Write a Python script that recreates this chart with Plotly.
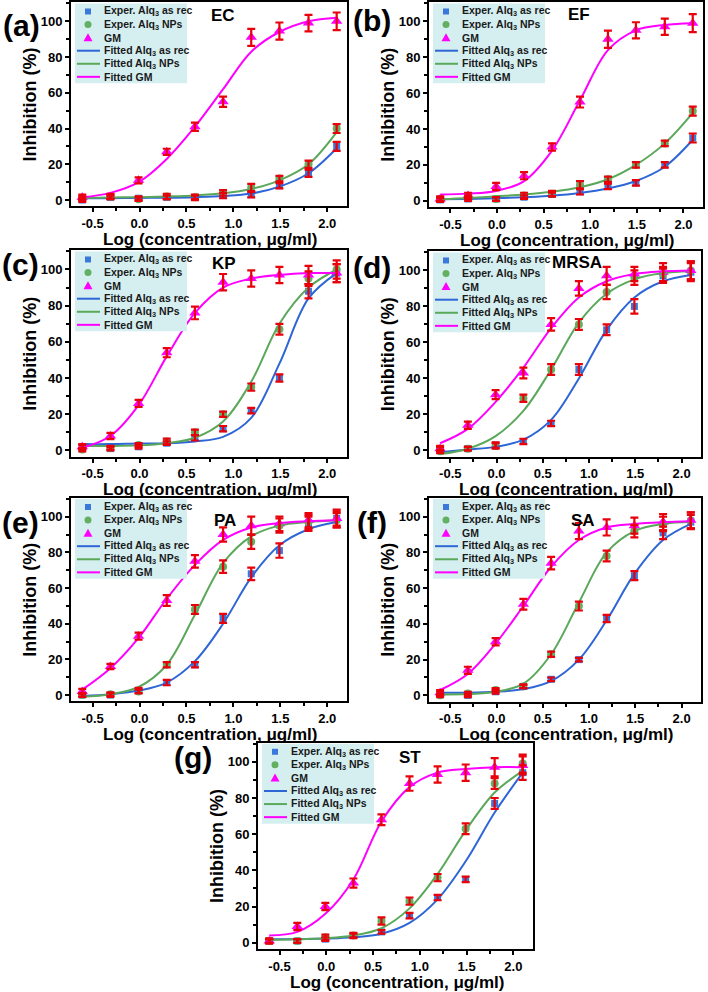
import plotly.graph_objects as go

W, H = 708, 992
FONT = "Arial, 'Liberation Sans', Helvetica, sans-serif"

# ---------------- data ----------------
x_log = [-0.61, -0.31, -0.01, 0.29, 0.59, 0.89, 1.19, 1.49, 1.80, 2.10]
x_tickvals = [-0.5, 0.0, 0.5, 1.0, 1.5, 2.0]
x_ticktext = ["-0.5", "0.0", "0.5", "1.0", "1.5", "2.0"]
y_tickvals = [0, 20, 40, 60, 80, 100]
y_ticktext = ["0", "20", "40", "60", "80", "100"]

panel_names = ["EC", "EF", "KP", "MRSA", "PA", "SA", "ST"]
panel_letters = ["(a)", "(b)", "(c)", "(d)", "(e)", "(f)", "(g)"]
legend_labels = ["Exper. Alq<sub>3</sub> as rec", "Exper. Alq<sub>3</sub> NPs", "GM",
                 "Fitted Alq<sub>3</sub> as rec", "Fitted Alq<sub>3</sub> NPs", "Fitted GM"]
x_title = "Log (concentration, μg/ml)"
y_title = "Inhibition (%)"

EC_rec = [0, 1.5, 1, 1.5, 1.5, 2.5, 3, 8, 15, 30]
EC_rec_err = [1, 1, 1, 1, 1, 1.5, 1.5, 1.5, 2, 2.5]
EC_nps = [1, 2, 0.5, 2, 1.5, 4, 7, 12, 20, 40]
EC_nps_err = [1, 1, 1, 1.5, 1.5, 1.5, 2, 1.5, 2, 2.5]
EC_gm = [1.5, 2, 11, 27, 41, 55, 91, 94.5, 99, 100]
EC_gm_err = [1.5, 1.5, 1.7, 1.7, 2.3, 2.9, 4.8, 4.8, 4.6, 4.9]
EC_fit_rec = [1, 1, 1.2, 1.3, 1.6, 2.2, 3.6, 7.5, 15, 29]
EC_fit_nps = [1.2, 1.4, 1.6, 2, 2.6, 3.8, 6.2, 11, 20, 38]
EC_fit_gm = [1.5, 4, 10, 23, 41, 62, 83, 94, 100, 102]

EF_rec = [0.5, 1, 1, 2, 3.5, 5, 8, 10, 20, 35]
EF_rec_err = [1, 1, 1, 1, 1, 1.5, 1.5, 1.5, 1.5, 2.5]
EF_nps = [1, 2, 1, 3, 4, 9, 12, 20, 32, 50]
EF_nps_err = [1, 1, 1, 1.5, 1.5, 2, 1.5, 1.5, 1.5, 2.5]
EF_gm = [1, 3, 8, 14, 30, 55, 90, 95, 97, 99]
EF_gm_err = [1.5, 1.5, 2, 2, 2, 3, 4.8, 4.5, 4.5, 5]
EF_fit_rec = [0.8, 1, 1.4, 2, 2.8, 4.3, 6.8, 11, 19, 34]
EF_fit_nps = [0.8, 1.5, 2.5, 3.5, 5, 7.5, 12, 20, 32, 49]
EF_fit_gm = [3.5, 4, 5.5, 11, 28, 56, 84, 95, 98, 99]

KP_rec = [2, 1, 2, 4, 7, 12, 22, 40, 88, 98]
KP_rec_err = [1, 1, 1, 1, 1.5, 1.5, 1.5, 2, 4, 5]
KP_nps = [0.5, 1.5, 3, 5, 10, 20, 35, 67, 95, 100]
KP_nps_err = [1, 1, 1, 1.5, 1.5, 1.5, 2, 3, 4, 5]
KP_gm = [2, 8, 26, 54, 76, 93, 95, 97, 97, 98]
KP_gm_err = [1.5, 1.7, 2, 2.5, 3.5, 4.5, 4.5, 4.5, 5, 5]
KP_fit_rec = [3.5, 3.5, 3.8, 4, 5, 7.5, 18, 48, 84, 98]
KP_fit_nps = [2.5, 2.5, 2.8, 4, 7, 16, 38, 70, 90, 100]
KP_fit_gm = [1.5, 8, 25, 52, 76, 90, 95, 97, 98, 98]

MRSA_rec = [1, 1, 3, 5, 15, 45, 67, 80, 97, 99]
MRSA_rec_err = [1, 1, 1.5, 1.5, 1.5, 3, 3, 4, 4, 5]
MRSA_nps = [-0.5, 1, 2.5, 29, 45, 70, 88, 96, 98, 100]
MRSA_nps_err = [1, 1, 1.5, 2, 3, 3, 4, 4, 4, 5]
MRSA_gm = [1, 14, 31, 43, 70, 90, 97, 98, 99, 100]
MRSA_gm_err = [1.5, 2, 2.5, 3, 3.5, 4, 5, 4, 5, 5]
MRSA_fit_rec = [-1, 0.5, 2, 6, 17, 40, 67, 85, 94, 97.5]
MRSA_fit_nps = [-2, 1, 8, 22, 45, 71, 87, 95, 98.5, 99.5]
MRSA_fit_gm = [4, 12, 27, 46, 68, 85, 94, 98, 99.5, 100]

PA_rec = [0, 0, 2.5, 7, 17, 43, 68, 81, 96, 99]
PA_rec_err = [1, 1, 1.5, 1.5, 1.5, 2.5, 3.5, 4, 4, 5]
PA_nps = [0, 0.5, 2, 17, 48, 72, 86, 95, 97, 98]
PA_nps_err = [1, 1, 1, 1.5, 2.5, 3.5, 4, 4, 4, 4]
PA_gm = [2, 16, 33, 53, 75, 90, 95, 96, 98, 99]
PA_gm_err = [1.5, 1.5, 2, 3, 3.5, 4, 5, 4, 4, 4]
PA_fit_rec = [-0.5, 0.5, 2.5, 7, 19, 40, 66, 84, 93, 97]
PA_fit_nps = [-1, 0.5, 4.5, 17, 45, 74, 89, 95, 97, 98]
PA_fit_gm = [3, 15, 32, 54, 73, 87, 94, 96.5, 97.5, 98]

SA_rec = [1, 0, 2, 5, 9, 20, 43, 67, 91, 97]
SA_rec_err = [1, 1, 1, 1, 1, 1, 2, 2.5, 3.5, 4]
SA_nps = [0, 1, 3, 5, 23, 50, 78, 92, 96, 98]
SA_nps_err = [1, 1, 1, 1, 1.5, 2.5, 3, 3.5, 4, 4.5]
SA_gm = [1.5, 14, 30, 51, 74, 92, 94, 95, 97, 98]
SA_gm_err = [1.5, 2, 2, 3, 3.5, 4.5, 4.5, 4.5, 4.5, 4.5]
SA_fit_rec = [1.5, 1.5, 2, 3.5, 8, 20, 42, 68, 87, 96]
SA_fit_nps = [0.5, 0.7, 2, 6.5, 23, 52, 80, 92, 96, 97]
SA_fit_gm = [3, 12, 29, 50, 72, 87, 94, 96, 97, 97.5]

ST_rec = [1, 1, 2, 4, 6, 15, 25, 35, 77, 94]
ST_rec_err = [1, 1, 1, 1, 1, 1.5, 1.5, 1.5, 3, 4]
ST_nps = [1, 1, 3, 4, 12, 23, 36, 63, 88, 99]
ST_nps_err = [1, 1, 1.5, 1.5, 2, 2, 2, 3, 3, 5]
ST_gm = [1, 9, 20, 33, 68, 88, 93, 94, 97, 98]
ST_gm_err = [1.5, 2, 2, 2.5, 3, 4, 4.5, 4.5, 5, 5]
ST_fit_rec = [2, 2, 2.3, 3, 5, 11, 24, 45, 72, 94]
ST_fit_nps = [1.5, 2, 2.5, 4, 8, 19, 38, 62, 83, 95]
ST_fit_gm = [4, 6, 16, 35, 67, 86, 94, 96, 97, 97]

panels = [
    (EC_rec, EC_rec_err, EC_nps, EC_nps_err, EC_gm, EC_gm_err, EC_fit_rec, EC_fit_nps, EC_fit_gm),
    (EF_rec, EF_rec_err, EF_nps, EF_nps_err, EF_gm, EF_gm_err, EF_fit_rec, EF_fit_nps, EF_fit_gm),
    (KP_rec, KP_rec_err, KP_nps, KP_nps_err, KP_gm, KP_gm_err, KP_fit_rec, KP_fit_nps, KP_fit_gm),
    (MRSA_rec, MRSA_rec_err, MRSA_nps, MRSA_nps_err, MRSA_gm, MRSA_gm_err, MRSA_fit_rec, MRSA_fit_nps, MRSA_fit_gm),
    (PA_rec, PA_rec_err, PA_nps, PA_nps_err, PA_gm, PA_gm_err, PA_fit_rec, PA_fit_nps, PA_fit_gm),
    (SA_rec, SA_rec_err, SA_nps, SA_nps_err, SA_gm, SA_gm_err, SA_fit_rec, SA_fit_nps, SA_fit_gm),
    (ST_rec, ST_rec_err, ST_nps, ST_nps_err, ST_gm, ST_gm_err, ST_fit_rec, ST_fit_nps, ST_fit_gm),
]

# ---------------- layout geometry (pixels) ----------------
frames = [  # left, top, right, bottom
    (71, 1.5, 347, 205.7),
    (429, 1.5, 703, 206.5),
    (71, 250, 347, 456.7),
    (429, 251, 701, 456.7),
    (71, 498, 347, 701.7),
    (429, 498, 701, 702),
    (258, 743.3, 533, 950),
]
letter_pos = [(21, 25), (372, 20), (20, 264), (372, 267), (20, 523), (372, 523), (193, 758)]
name_pos = [(223, 15), (579, 14), (224, 263), (577, 262), (225, 521), (583, 521), (410, 758)]
X_RANGE = [-0.73, 2.21]
Y_RANGE = [-3.5, 110.5]

BLUE_M, BLUE_L = "#3a78dc", "#2f66d6"
GREEN_M, GREEN_L = "#63b063", "#5aa85a"
MAG = "#ff00ff"
RED = "#e8000a"
LEG_BG = "#d5eff1"


def px(x):
    return x / W


def py(y):
    return 1 - y / H


fig = go.Figure()
annotations = []
shapes = []

for i, data in enumerate(panels):
    rec, rec_err, nps, nps_err, gm, gm_err, fit_rec, fit_nps, fit_gm = data
    n = i + 1
    sfx = "" if n == 1 else str(n)
    xa, ya = "x" + sfx, "y" + sfx
    L, T, R, B = frames[i]

    axis_common = dict(
        showline=True, linecolor="black", linewidth=2, mirror=True,
        ticks="outside", ticklen=4, tickwidth=2, tickcolor="black",
        showgrid=False, zeroline=False, fixedrange=True,
        tickfont=dict(family=FONT, size=13, color="black", weight="bold"),
    )
    fig.update_layout({
        "xaxis" + sfx: dict(axis_common, domain=[px(L), px(R)], anchor=ya, range=X_RANGE,
                            tickmode="array", tickvals=x_tickvals, ticktext=x_ticktext,
                            minor=dict(ticks="outside", ticklen=3, tickwidth=1.5,
                                       tickcolor="black", tickmode="linear", tick0=0, dtick=0.25)),
        "yaxis" + sfx: dict(axis_common, domain=[py(B), py(T)], anchor=xa, range=Y_RANGE,
                            tickmode="array", tickvals=y_tickvals, ticktext=y_ticktext,
                            minor=dict(ticks="outside", ticklen=3, tickwidth=1.5,
                                       tickcolor="black", tickmode="linear", tick0=0, dtick=10)),
    })

    # experimental markers
    fig.add_trace(go.Scatter(x=x_log, y=rec, mode="markers", xaxis=xa, yaxis=ya,
                             marker=dict(symbol="square", size=7, color=BLUE_M),
                             name="Exper. Alq3 as rec", showlegend=False, cliponaxis=False))
    fig.add_trace(go.Scatter(x=x_log, y=nps, mode="markers", xaxis=xa, yaxis=ya,
                             marker=dict(symbol="circle", size=8, color=GREEN_M),
                             name="Exper. Alq3 NPs", showlegend=False, cliponaxis=False))
    fig.add_trace(go.Scatter(x=x_log, y=gm, mode="markers", xaxis=xa, yaxis=ya,
                             marker=dict(symbol="triangle-up", size=10, color=MAG),
                             name="GM", showlegend=False, cliponaxis=False))
    # fitted curves
    for yy, col, nm in ((fit_rec, BLUE_L, "Fitted Alq3 as rec"),
                        (fit_nps, GREEN_L, "Fitted Alq3 NPs"),
                        (fit_gm, MAG, "Fitted GM")):
        fig.add_trace(go.Scatter(x=x_log, y=yy, mode="lines", xaxis=xa, yaxis=ya,
                                 line=dict(color=col, width=2, shape="spline", smoothing=1.0),
                                 name=nm, showlegend=False, hoverinfo="skip"))
    # error bars (drawn on top)
    for yy, ee in ((rec, rec_err), (nps, nps_err), (gm, gm_err)):
        fig.add_trace(go.Scatter(x=x_log, y=yy, mode="markers", xaxis=xa, yaxis=ya,
                                 marker=dict(size=3, color=RED, opacity=0),
                                 error_y=dict(type="data", array=ee, color=RED,
                                              thickness=2.2, width=4),
                                 showlegend=False, hoverinfo="skip", cliponaxis=False))

    # panel letter and name
    lx, ly = letter_pos[i]
    annotations.append(dict(text=panel_letters[i], x=px(lx), y=py(ly), xref="paper", yref="paper",
                            xanchor="center", yanchor="middle", showarrow=False,
                            font=dict(family=FONT, size=30, color="black", weight="bold")))
    nx, ny = name_pos[i]
    annotations.append(dict(text=panel_names[i], x=px(nx), y=py(ny), xref="paper", yref="paper",
                            xanchor="center", yanchor="middle", showarrow=False,
                            font=dict(family=FONT, size=17, color="black", weight="bold")))
    # axis titles
    annotations.append(dict(text=x_title, x=px((L + R) / 2 + 1), y=py(B + 33), xref="paper", yref="paper",
                            xanchor="center", yanchor="middle", showarrow=False,
                            font=dict(family=FONT, size=17, color="black", weight="bold")))
    annotations.append(dict(text=y_title, x=px(L - 41), y=py((T + B) / 2), xref="paper", yref="paper",
                            xanchor="center", yanchor="middle", showarrow=False, textangle=-90,
                            font=dict(family=FONT, size=18, color="black", weight="bold")))

    # custom legend box
    shapes.append(dict(type="rect", xref="paper", yref="paper",
                       x0=px(L + 4), x1=px(L + 116), y0=py(T + 81), y1=py(T + 1),
                       fillcolor=LEG_BG, line=dict(width=0), layer="above"))
    rows = [T + 9 + 13.1 * k for k in range(6)]
    mx = px(L + 17)
    shapes.append(dict(type="rect", xref="paper", yref="paper", xsizemode="pixel", ysizemode="pixel",
                       xanchor=mx, yanchor=py(rows[0]), x0=-3, x1=3, y0=-3, y1=3,
                       fillcolor=BLUE_M, line=dict(width=0), layer="above"))
    shapes.append(dict(type="circle", xref="paper", yref="paper", xsizemode="pixel", ysizemode="pixel",
                       xanchor=mx, yanchor=py(rows[1]), x0=-3.5, x1=3.5, y0=-3.5, y1=3.5,
                       fillcolor=GREEN_M, line=dict(width=0), layer="above"))
    shapes.append(dict(type="path", xref="paper", yref="paper", xsizemode="pixel", ysizemode="pixel",
                       xanchor=mx, yanchor=py(rows[2]), path="M -4.5,-3.5 L 4.5,-3.5 L 0,4.5 Z",
                       fillcolor=MAG, line=dict(width=0), layer="above"))
    for k, col in ((3, BLUE_L), (4, GREEN_L), (5, MAG)):
        shapes.append(dict(type="line", xref="paper", yref="paper",
                           x0=px(L + 6), x1=px(L + 29), y0=py(rows[k]), y1=py(rows[k]),
                           line=dict(color=col, width=2), layer="above"))
    for k in range(6):
        annotations.append(dict(text=legend_labels[k], x=px(L + 31), y=py(rows[k]),
                                xref="paper", yref="paper", xanchor="left", yanchor="middle",
                                showarrow=False,
                                font=dict(family=FONT, size=10.5, color="#1a1a1a", weight="bold")))

fig.update_layout(
    width=W, height=H, margin=dict(l=0, r=0, t=0, b=0),
    paper_bgcolor="white", plot_bgcolor="white",
    showlegend=False, annotations=annotations, shapes=shapes,
    font=dict(family=FONT, color="black"),
)

fig.write_html("out.html")
